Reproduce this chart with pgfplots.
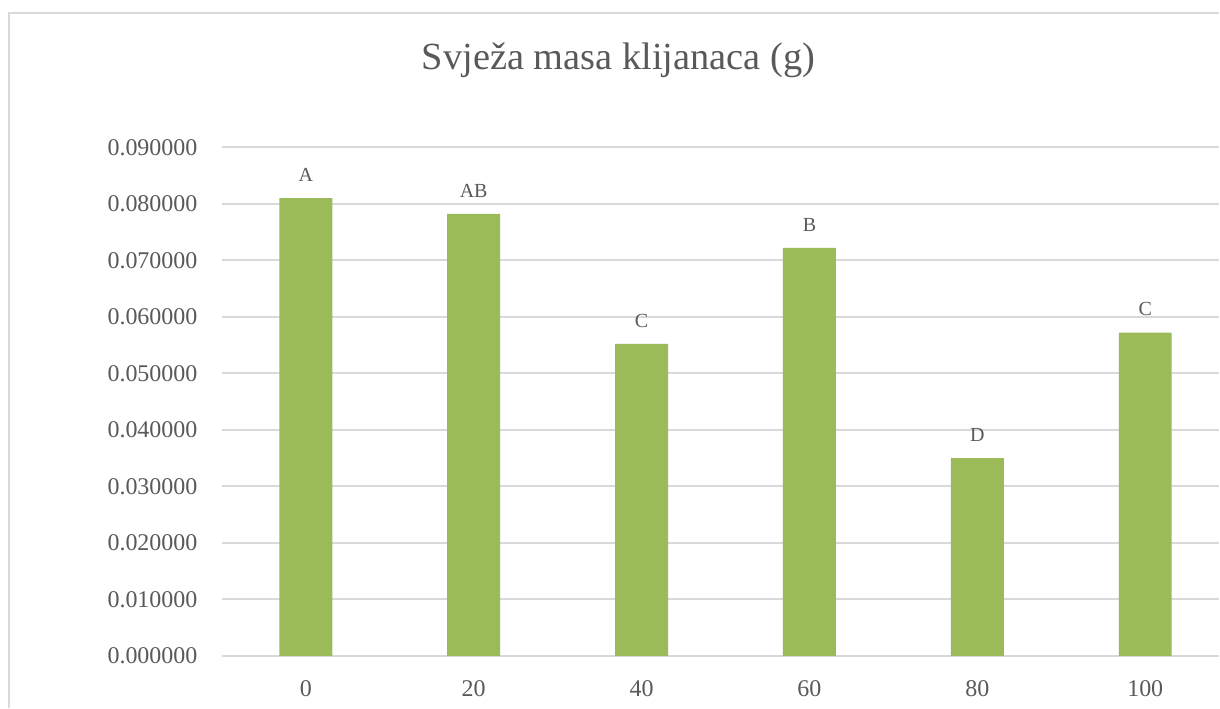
\documentclass[border=0pt]{standalone}
\usepackage{fontspec}
\setmainfont{Liberation Serif}
\usepackage{pgfplots}
\pgfplotsset{compat=1.18}
\definecolor{barg}{HTML}{9BBB59}
\definecolor{txt}{HTML}{595959}
\definecolor{grd}{HTML}{D9D9D9}

\begin{document}
\begin{tikzpicture}
% picture laid out in reference pixels, 1 px = 0.5pt
\begin{scope}[x=0.5pt,y=0.5pt]
\path[use as bounding box] (0,0) rectangle (1220,709);
\draw[grd,line width=0.8pt] (9,0) -- (9,696) -- (1220,696);
\end{scope}
\begin{axis}[
  at={(111pt,26.35pt)}, anchor=south west,
  scale only axis, width=499pt, height=254.5pt,
  ybar, bar width=26.5pt,
  ymin=0, ymax=0.09, xmin=-0.5, xmax=5.44,
  ytick={0,0.01,0.02,0.03,0.04,0.05,0.06,0.07,0.08,0.09},
  scaled y ticks=false,
  xtick={0,1,2,3,4,5}, xticklabels={0,20,40,60,80,100},
  axis line style={draw=none},
  major tick length=0pt,
  ymajorgrids, grid style={grd,line width=0.9pt},
  /pgf/number format/assume math mode=true,
  tick label style={font=\fontsize{12}{14}\selectfont, text=txt, inner sep=0pt},
  yticklabel style={anchor=east, xshift=-12pt,
    /pgf/number format/fixed, /pgf/number format/fixed zerofill,
    /pgf/number format/precision=6},
  xticklabel style={anchor=north, yshift=-12pt},
  point meta=explicit symbolic,
  nodes near coords,
  nodes near coords style={anchor=south, inner sep=0pt, yshift=8pt,
    font=\fontsize{10}{12}\selectfont, text=txt},
  title={Svježa masa klijanaca (g)},
  every axis title shift=0pt,
  title style={at={(axis description cs:0.3978,1.1519)}, anchor=base,
    inner sep=0pt, font=\fontsize{19.2}{23}\selectfont, text=txt},
]
\addplot[fill=barg, draw=none] table[meta=lbl] {
x y lbl
0 0.0810 A
1 0.0782 AB
2 0.0552 C
3 0.0722 B
4 0.0350 D
5 0.0572 C
};
\end{axis}
\end{tikzpicture}
\end{document}
